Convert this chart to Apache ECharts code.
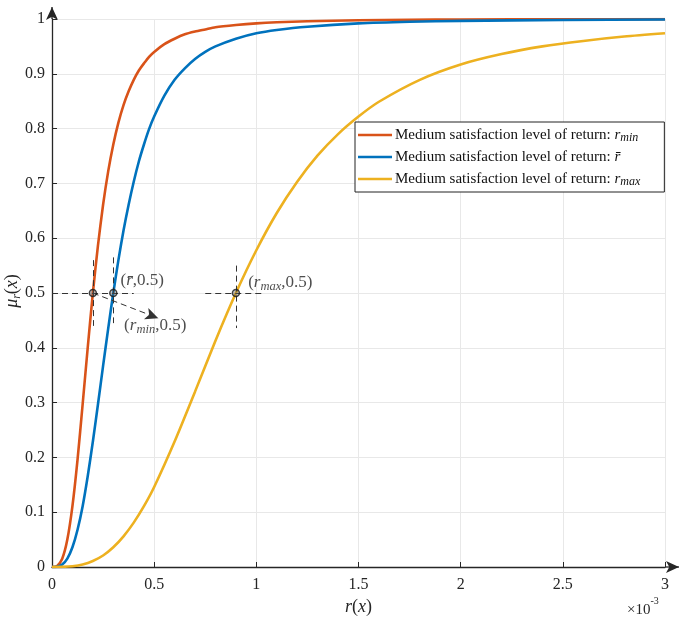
<!DOCTYPE html>
<html>
<head>
<meta charset="utf-8">
<script src="https://cdn.jsdelivr.net/npm/echarts@6/dist/echarts.min.js"></script>
<style>html,body{margin:0;padding:0;background:#fff;}#c{width:685px;height:621px;}</style>
</head>
<body>
<div id="c"></div>
<script>
// x values are in units of 1e-3
const xRB = [0,0.025,0.05,0.075,0.1,0.125,0.15,0.175,0.2,0.225,0.25,0.275,0.3,0.325,0.35,0.375,0.4,0.425,0.45,0.475,0.5,0.55,0.6,0.65,0.7,0.75,0.8,0.9,1.0,1.1,1.25,1.5,1.75,2.0,2.5,3.0];
const yMin = [0,0.002,0.015,0.050,0.111,0.196,0.297,0.401,0.5,0.587,0.661,0.722,0.771,0.811,0.843,0.868,0.889,0.906,0.919,0.931,0.940,0.954,0.964,0.972,0.977,0.981,0.985,0.989,0.992,0.994,0.996,0.9976,0.9985,0.999,0.9995,0.9997];
const yBar = [0,0.0006,0.0046,0.0154,0.036,0.068,0.111,0.166,0.229,0.297,0.367,0.435,0.5,0.560,0.614,0.661,0.703,0.740,0.771,0.799,0.822,0.860,0.889,0.910,0.927,0.940,0.950,0.964,0.974,0.980,0.986,0.992,0.995,0.9966,0.9983,0.999];
const xMax = [0,0.05,0.1,0.15,0.2,0.25,0.3,0.35,0.4,0.45,0.5,0.6,0.7,0.8,0.9,1.0,1.1,1.2,1.3,1.4,1.5,1.6,1.8,2.0,2.2,2.4,2.6,2.8,3.0];
const yMaxS = [0,0.0002,0.0014,0.0046,0.011,0.021,0.036,0.056,0.081,0.111,0.146,0.229,0.320,0.413,0.5,0.578,0.646,0.703,0.751,0.790,0.822,0.849,0.889,0.917,0.936,0.950,0.960,0.968,0.974];
const halfPoints = [[0.2,0.5],[0.3,0.5],[0.9,0.5]];
const xTicks = [0,0.5,1,1.5,2,2.5,3];
const yTicks = [0,0.1,0.2,0.3,0.4,0.5,0.6,0.7,0.8,0.9,1];
const seriesNames = ['rmin','rbar','rmax'];
const legendText = {
  rmin: 'Medium satisfaction level of return: {i|r}{s|min}',
  rbar: 'Medium satisfaction level of return: {i|r\u0304}',
  rmax: 'Medium satisfaction level of return: {i|r}{s|max}'
};
const colors = ['#D95319','#0072BD','#EDB120'];
const FONT = '"Liberation Serif", "DejaVu Serif", serif';

function zip(xs, ys){ return xs.map((x,i)=>[x, ys[i]]); }
const fmtNum = v => (Math.round(v*10)/10).toString();

const dashStyle = {color:'#333', width:1, type:[6,4]};
const richAnn = {
  n:{fontFamily:FONT, fontSize:17, color:'#222', lineHeight:20},
  i:{fontFamily:FONT, fontSize:17, fontStyle:'italic', color:'#222', lineHeight:20},
  s:{fontFamily:FONT, fontSize:12.5, fontStyle:'italic', color:'#222', lineHeight:14, verticalAlign:'bottom'}
};

const chart = echarts.init(document.getElementById('c'), null, {renderer:'canvas'});
const option = {
  animation:false,
  backgroundColor:'#fff',
  color: colors,
  grid:{left:52, right:20, top:19, bottom:54, containLabel:false, outerBoundsMode:'none'},
  xAxis:{
    type:'value', min:0, max:3, interval:0.5,
    name:'{i|r}{n|(}{i|x}{n|)}', nameLocation:'middle', nameGap:31,
    nameTextStyle:{rich:{
      n:{fontFamily:FONT, fontSize:18, color:'#262626'},
      i:{fontFamily:FONT, fontSize:18, fontStyle:'italic', color:'#262626'}}},
    axisLine:{show:true, onZero:false, lineStyle:{color:'#262626', width:1.3}, symbol:['none','arrow'], symbolSize:[9,13], symbolOffset:[0,14]},
    axisTick:{show:true, inside:true, length:5, lineStyle:{color:'#262626'}},
    axisLabel:{fontFamily:FONT, fontSize:16, color:'#262626', margin:10, formatter:fmtNum},
    splitLine:{show:true, lineStyle:{color:'#e8e8e8', width:1}}
  },
  yAxis:{
    type:'value', min:0, max:1, interval:0.1,
    axisLine:{show:true, onZero:false, lineStyle:{color:'#262626', width:1.3}, symbol:['none','arrow'], symbolSize:[9,13], symbolOffset:[0,12]},
    axisTick:{show:true, inside:true, length:5, lineStyle:{color:'#262626'}},
    axisLabel:{fontFamily:FONT, fontSize:16, color:'#262626', margin:7, formatter:fmtNum},
    splitLine:{show:true, lineStyle:{color:'#e8e8e8', width:1}}
  },
  legend:{
    data: seriesNames,
    orient:'vertical', left:355, top:122,
    padding:[4,24,4,3], itemGap:4, itemWidth:34, itemHeight:2.5, icon:'rect',
    borderColor:'#222', borderWidth:1, backgroundColor:'#fff', borderRadius:0,
    formatter: name => legendText[name],
    textStyle:{fontFamily:FONT, fontSize:15, color:'#111', lineHeight:18, padding:[0,0,0,-2], rich:{
      i:{fontFamily:FONT, fontSize:15, fontStyle:'italic', color:'#111', lineHeight:18},
      s:{fontFamily:FONT, fontSize:12, fontStyle:'italic', color:'#111', lineHeight:13, verticalAlign:'bottom'}}}
  },
  series:[
    {name:'rmin', type:'line', data:zip(xRB,yMin), smooth:0.25, showSymbol:false, symbol:'none', lineStyle:{width:2.6, color:colors[0]}, z:3},
    {name:'rbar', type:'line', data:zip(xRB,yBar), smooth:0.25, showSymbol:false, symbol:'none', lineStyle:{width:2.6, color:colors[1]}, z:3},
    {name:'rmax', type:'line', data:zip(xMax,yMaxS), smooth:0.25, showSymbol:false, symbol:'none', lineStyle:{width:2.6, color:colors[2]}, z:3},
    {name:'dashes', type:'line', data:[], z:4, silent:true,
      markLine:{silent:true, symbol:'none', animation:false, label:{show:false}, lineStyle:dashStyle,
        data:[
          [{coord:[0,0.5]},{coord:[0.4,0.5]}],
          [{coord:[0.2,0.56]},{coord:[0.2,0.44]}],
          [{coord:[0.3,0.565]},{coord:[0.3,0.445]}],
          [{coord:[0.75,0.5]},{coord:[1.03,0.5]}],
          [{coord:[0.9,0.55]},{coord:[0.9,0.436]}],
          [{coord:[0.2,0.5], symbol:'none'},{coord:[0.52,0.454], symbol:'arrow', symbolSize:[9,13]}]
        ]}
    },
    {name:'points', type:'scatter', z:5, silent:true, symbol:'circle', symbolSize:7,
      itemStyle:{color:'rgba(90,90,90,0.45)', borderColor:'#1a1a1a', borderWidth:1.5},
      data:[
        {value:halfPoints[0], label:{show:true, position:'right', offset:[22,33], formatter:'{n|(}{i|r}{s|min}{n|,0.5)}', rich:richAnn}},
        {value:halfPoints[1], label:{show:true, position:'right', offset:[-2,-12], formatter:'{n|(}{i|r\u0304}{n|,0.5)}', rich:richAnn}},
        {value:halfPoints[2], label:{show:true, position:'right', offset:[3,-10], formatter:'{n|(}{i|r}{s|max}{n|,0.5)}', rich:richAnn}}
      ]
    }
  ]
};
chart.setOption(option);
const pTop = chart.convertToPixel({gridIndex:0}, [0,1]);
const pRight = chart.convertToPixel({gridIndex:0}, [3,0]);
const pMid = chart.convertToPixel({gridIndex:0}, [0,0.5]);
chart.setOption({graphic:[
  {id:'yext', type:'line', shape:{x1:pTop[0], y1:pTop[1], x2:pTop[0], y2:pTop[1]-12}, style:{stroke:'#262626', lineWidth:1.3}, z:10},
  {id:'xext', type:'line', shape:{x1:pRight[0], y1:pRight[1], x2:pRight[0]+14, y2:pRight[1]}, style:{stroke:'#262626', lineWidth:1.3}, z:10},
  {id:'yname', type:'text', x:pMid[0]-40, y:pMid[1]-2, rotation:Math.PI/2, style:{
    text:'{i|\u03bc}{s|r}{n|(}{i|x}{n|)}', align:'center', verticalAlign:'middle', rich:{
      n:{fontFamily:FONT, fontSize:18, fill:'#262626', lineHeight:22},
      i:{fontFamily:FONT, fontSize:18, fontStyle:'italic', fill:'#262626', lineHeight:22},
      s:{fontFamily:FONT, fontSize:12, fontStyle:'italic', fill:'#262626', lineHeight:14, verticalAlign:'bottom'}}}},
  {id:'exp', type:'text', left:pRight[0]-38, top:pRight[1]+29, style:{
    text:'{n|\u00d710}{e|-3}', rich:{
      n:{fontFamily:FONT, fontSize:15, fill:'#262626', lineHeight:18, verticalAlign:'bottom'},
      e:{fontFamily:FONT, fontSize:10, fill:'#262626', lineHeight:22, verticalAlign:'top'}}}}
]});
</script>
</body>
</html>
